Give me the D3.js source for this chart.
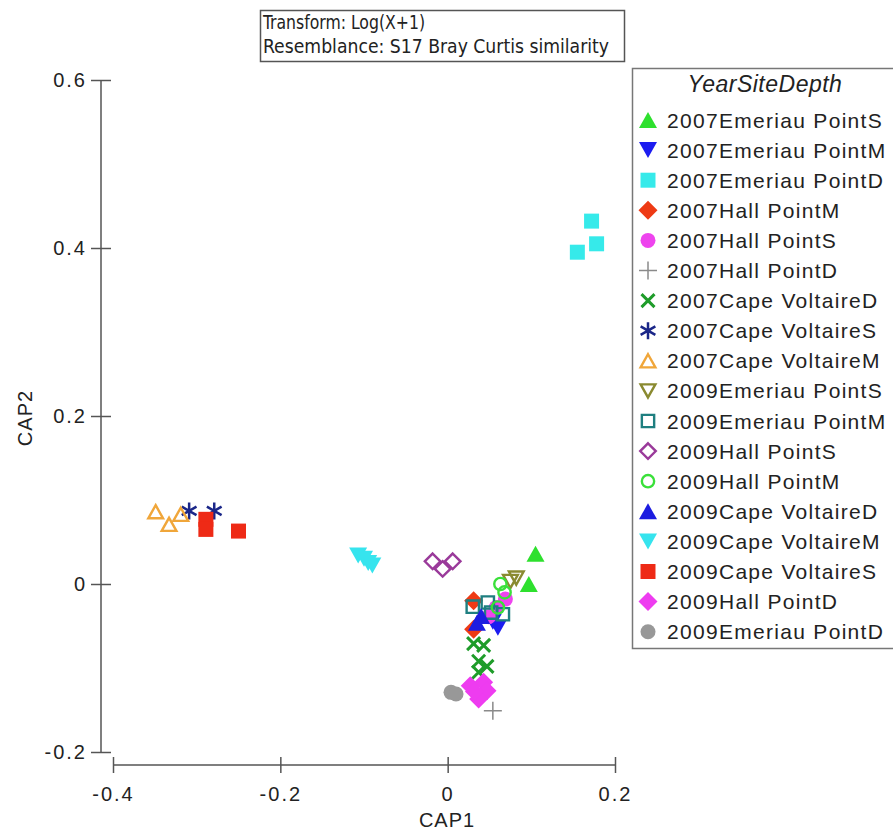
<!DOCTYPE html>
<html>
<head>
<meta charset="utf-8">
<script src="https://cdn.jsdelivr.net/npm/d3@7"></script>
<style>
  body { margin: 0; background: #fff; }
  svg text { font-family: "Liberation Sans", Arial, sans-serif; fill: #222; }
</style>
</head>
<body>
<svg id="chart" width="893" height="831"></svg>
<script>
// tick labels
const xTicks = [-0.4, -0.2, 0, 0.2];
const yTicks = [-0.2, 0, 0.2, 0.4, 0.6];

// legend order
const groups = [
  "2007Emeriau PointS", "2007Emeriau PointM", "2007Emeriau PointD",
  "2007Hall PointM", "2007Hall PointS", "2007Hall PointD",
  "2007Cape VoltaireD", "2007Cape VoltaireS", "2007Cape VoltaireM",
  "2009Emeriau PointS", "2009Emeriau PointM", "2009Hall PointS",
  "2009Hall PointM", "2009Cape VoltaireD", "2009Cape VoltaireM",
  "2009Cape VoltaireS", "2009Hall PointD", "2009Emeriau PointD"
];

// CAP1, CAP2 scores, one array per group
const em07S = [[0.105, 0.036], [0.097, 0.0]];
const em07M = [[0.054, -0.045], [0.06, -0.052]];
const em07D = [[0.155, 0.395], [0.172, 0.432], [0.178, 0.405]];
const ha07M = [[0.031, -0.02], [0.031, -0.054]];
const ha07S = [[0.069, -0.018], [0.049, -0.039], [0.058, -0.028]];
const ha07D = [[0.054, -0.151]];
const cv07D = [[0.031, -0.071], [0.043, -0.073], [0.037, -0.092], [0.047, -0.098], [0.037, -0.105]];
const cv07S = [[-0.309, 0.087], [-0.279, 0.087]];
const cv07M = [[-0.349, 0.086], [-0.333, 0.071], [-0.319, 0.083]];
const em09S = [[0.082, 0.007], [0.075, 0.003]];
const em09M = [[0.03, -0.027], [0.048, -0.022], [0.066, -0.036], [0.052, -0.034]];
const ha09S = [[-0.018, 0.027], [-0.006, 0.018], [0.006, 0.027]];
const ha09M = [[0.063, 0.0], [0.068, -0.01], [0.06, -0.028]];
const cv09D = [[0.035, -0.046], [0.04, -0.038]];
const cv09M = [[-0.107, 0.034], [-0.1, 0.03], [-0.095, 0.025], [-0.09, 0.022]];
const cv09S = [[-0.289, 0.077], [-0.289, 0.065], [-0.25, 0.063]];
const ha09D = [[0.027, -0.121], [0.043, -0.117], [0.047, -0.127], [0.037, -0.137], [0.032, -0.128]];
const em09D = [[0.004, -0.129], [0.01, -0.131]];

const scores = [em07S, em07M, em07D, ha07M, ha07S, ha07D, cv07D, cv07S, cv07M,
  em09S, em09M, ha09S, ha09M, cv09D, cv09M, cv09S, ha09D, em09D];

const colors = ["#2ee02e", "#1c1cf0", "#36eaea", "#ee3a14", "#ee44ee", "#8a8a8a",
  "#1f9c2a", "#1a2688", "#f0a63a", "#8a8a30", "#1e7f80", "#9a3a9a",
  "#3ae03a", "#1c1ce0", "#36e4ee", "#ee2a16", "#ee3cf0", "#989898"];
const shapes = ["triUp", "triDown", "square", "diamond", "circle", "plus",
  "cross", "star", "triUpOpen", "triDownOpen", "squareOpen", "diamondOpen",
  "circleOpen", "triUp", "triDown", "square", "diamond", "circle"];

const svg = d3.select("#chart");

const x = d3.scaleLinear().domain([-0.4, 0.2]).range([113, 615]);
const y = d3.scaleLinear().domain([-0.2, 0.6]).range([752, 80]);

// marker paths centred on 0,0
function shapePath(s) {
  const base = s.replace("Open", "");
  const open = s.endsWith("Open");
  const k = open ? 0.82 : 1;
  switch (base) {
    case "triUp": { const w = 9 * k, h = 8 * k; return `M0,${-h}L${w},${h}L${-w},${h}Z`; }
    case "triDown": { const w = 9 * k, h = 8 * k; return `M0,${h}L${w},${-h}L${-w},${-h}Z`; }
    case "square": { const a = 7.5 * k; return `M${-a},${-a}H${a}V${a}H${-a}Z`; }
    case "diamond": { const a = 9.5 * k; return `M0,${-a}L${a},0L0,${a}L${-a},0Z`; }
    case "circle": { const r = 7.5 * k; return `M${r},0A${r},${r} 0 1,1 ${-r},0A${r},${r} 0 1,1 ${r},0Z`; }
    case "plus": return "M-9,0H9M0,-9V9";
    case "cross": return "M-6.5,-6.5L6.5,6.5M-6.5,6.5L6.5,-6.5";
    case "star": {
      let p = "";
      [90, 30, 150].forEach(a => {
        const dx = 8.5 * Math.cos(a * Math.PI / 180), dy = 8.5 * Math.sin(a * Math.PI / 180);
        p += `M${-dx},${-dy}L${dx},${dy}`;
      });
      return p;
    }
  }
}

function styleMarker(sel, i) {
  const s = shapes[i];
  const line = s === "plus" || s === "cross" || s === "star";
  const open = s.endsWith("Open");
  sel.attr("d", shapePath(s))
    .attr("fill", line || open ? "none" : colors[i])
    .attr("stroke", line || open ? colors[i] : "none")
    .attr("stroke-width", s === "plus" ? 1.5 : (s === "cross" ? 3 : (s === "star" ? 2.5 : 2.4)));
}

// header box
const headFont = "'Liberation Sans Narrow', 'DejaVu Sans Condensed', sans-serif";
const head = svg.append("g");
head.append("rect").attr("x", 260.5).attr("y", 10.5).attr("width", 364).attr("height", 51)
  .attr("fill", "#fff").attr("stroke", "#555").attr("stroke-width", 1.5);
head.append("text").attr("x", 263).attr("y", 29)
  .attr("textLength", 162).attr("lengthAdjust", "spacingAndGlyphs")
  .style("font-family", headFont).style("font-size", "19px").attr("fill", "#333")
  .text("Transform: Log(X+1)");
head.append("text").attr("x", 263).attr("y", 53)
  .attr("textLength", 346).attr("lengthAdjust", "spacingAndGlyphs")
  .style("font-family", headFont).style("font-size", "19px").attr("fill", "#333")
  .text("Resemblance: S17 Bray Curtis similarity");

// axes
const yAxis = svg.append("g").attr("transform", "translate(101,0)")
  .call(d3.axisLeft(y).tickValues(yTicks).tickSize(0).tickPadding(14).tickFormat(d => String(d)));
const xAxis = svg.append("g").attr("transform", "translate(0,765)")
  .call(d3.axisBottom(x).tickValues(xTicks).tickSize(0).tickPadding(22).tickFormat(d => String(d)));

[yAxis, xAxis].forEach(a => {
  a.select(".domain").attr("stroke", "#555").attr("stroke-width", 1.5);
  a.selectAll(".tick text").style("font-size", "20px").style("letter-spacing", "2px").attr("fill", "#222");
});
yAxis.select(".domain").attr("d", `M0,${y(0.6)}V${y(-0.2)}`);
xAxis.select(".domain").attr("d", `M${x(-0.4)},0H${x(0.2)}`);
yAxis.selectAll(".tick line").attr("x1", -10).attr("x2", 10).attr("stroke", "#555").attr("stroke-width", 1.5);
xAxis.selectAll(".tick line").attr("y1", -8).attr("y2", 8).attr("stroke", "#555").attr("stroke-width", 1.5);

svg.append("text").attr("x", 447).attr("y", 827).attr("text-anchor", "middle")
  .style("font-size", "20px").style("letter-spacing", "1px").text("CAP1");
svg.append("text").attr("transform", "translate(32,418) rotate(-90)").attr("text-anchor", "middle")
  .style("font-size", "20px").style("letter-spacing", "1px").text("CAP2");

// points
const plot = svg.append("g");
scores.forEach((pts, i) => {
  plot.selectAll(null).data(pts).join("path")
    .attr("transform", d => `translate(${x(d[0])},${y(d[1])})`)
    .call(styleMarker, i);
});

// legend
const leg = svg.append("g");
const legTop = 120, legStep = 30.1;
leg.append("rect").attr("x", 632.5).attr("y", 68.5).attr("width", 280).attr("height", 580)
  .attr("fill", "#fff").attr("stroke", "#777").attr("stroke-width", 1.5);
leg.append("text").attr("x", 765).attr("y", 92).attr("text-anchor", "middle")
  .style("font-size", "23px").style("font-style", "italic").style("letter-spacing", "0.5px")
  .attr("fill", "#3a3ad0").text("YearSiteDepth");
groups.forEach((g, i) => {
  const row = leg.append("g").attr("transform", `translate(0,${legTop + i * legStep})`);
  row.append("path").attr("transform", "translate(648,0)").call(styleMarker, i);
  row.append("text").attr("x", 667).attr("y", 7.5)
    .style("font-size", "21px").style("letter-spacing", "1.3px").text(g);
});
</script>
</body>
</html>
